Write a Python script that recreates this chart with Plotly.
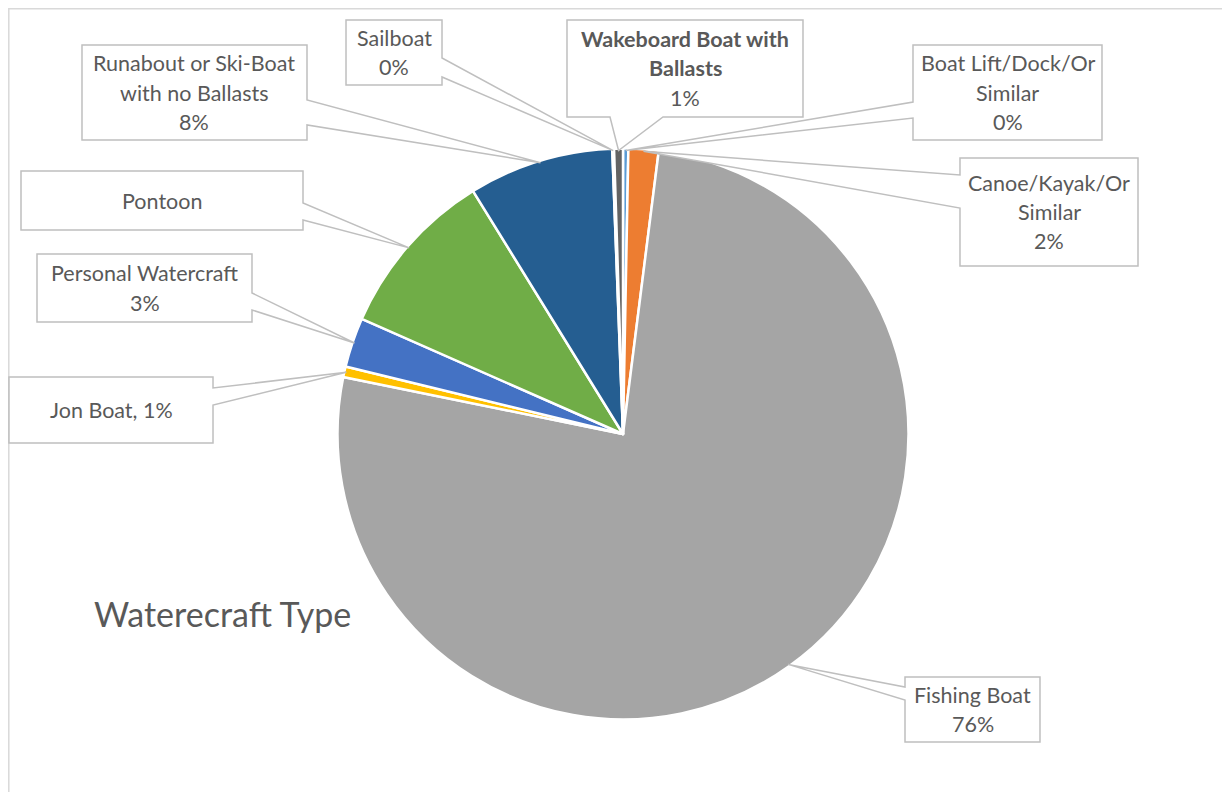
import math
import plotly.graph_objects as go

# ---- data ----
categories = [
    "Boat Lift/Dock/Or Similar",
    "Canoe/Kayak/Or Similar",
    "Fishing Boat",
    "Jon Boat",
    "Personal Watercraft",
    "Pontoon",
    "Runabout or Ski-Boat with no Ballasts",
    "Sailboat",
    "Wakeboard Boat with Ballasts",
]
values = [0.3, 1.7, 76.2, 0.6, 2.8, 9.6, 8.2, 0.1, 0.5]
colors = ["#5B9BD5", "#ED7D31", "#A5A5A5", "#FFC000", "#4472C4",
          "#70AD47", "#255E91", "#9E480E", "#636363"]
label_lines = [
    ["Boat Lift/Dock/Or", "Similar", "0%"],
    ["Canoe/Kayak/Or", "Similar", "2%"],
    ["Fishing Boat", "76%"],
    ["Jon Boat, 1%"],
    ["Personal Watercraft", "3%"],
    ["Pontoon"],
    ["Runabout or Ski-Boat", "with no Ballasts", "8%"],
    ["Sailboat", "0%"],
    ["Wakeboard Boat with", "Ballasts", "1%"],
]
# number of leading lines set in bold for each label
bold_lines = [0, 0, 0, 0, 0, 0, 0, 0, 2]
title_text = "Waterecraft Type"

# ---- layout constants (page pixels) ----
W, H = 1230, 792
OFF = 8  # page body margin
CX, CY, R = 623, 434, 285.5
TEXT = "#595959"
FONT = "Lato"

# callout boxes: (left, top, right, bottom, side, a, b)
boxes = [
    (913, 45, 1102, 140, "left", 102, 118),
    (960, 158, 1138, 266, "left", 175, 208),
    (905, 677, 1040, 742, "left", 687, 700),
    (9, 377, 213, 443, "right", 388, 405),
    (37, 254, 252, 322, "right", 293, 310),
    (21, 171, 303, 230, "right", 203, 220),
    (82, 45, 307, 140, "right", 100, 125),
    (346, 20, 442, 85, "right", 58, 77),
    (567, 20, 803, 117, "bottom", 610, 663),
]
line_gap = 29.5


def px(x):
    return (x - OFF) / W


def py(y):
    return 1 - (y - OFF) / H


fig = go.Figure(go.Pie(
    labels=categories, values=values, sort=False, direction="clockwise",
    rotation=0, marker=dict(colors=colors, line=dict(color="white", width=2.5)),
    textinfo="none", hoverinfo="label+percent", showlegend=False,
    domain=dict(x=[px(CX - R), px(CX + R)], y=[py(CY + R), py(CY - R)]),
))

shapes = [dict(type="rect", xref="paper", yref="paper",
               x0=px(OFF + 0.8), x1=px(1260), y0=py(OFF + 0.8), y1=py(830),
               line=dict(color="#D9D9D9", width=1.5), layer="below")]
annotations = []

total = sum(values)
cum = 0.0
for i, v in enumerate(values):
    mid = (cum + v / 2) / total * 2 * math.pi
    cum += v
    tx = CX + (R - 2) * math.sin(mid)
    ty = CY - (R - 2) * math.cos(mid)
    l, t, r, b, side, a1, a2 = boxes[i]
    if side == "right":
        pts = [(l, t), (r, t), (r, a1), (tx, ty), (r, a2), (r, b), (l, b)]
    elif side == "left":
        pts = [(l, t), (r, t), (r, b), (l, b), (l, a2), (tx, ty), (l, a1)]
    else:
        pts = [(l, t), (r, t), (r, b), (a2, b), (tx, ty), (a1, b), (l, b)]
    path = "M " + " L ".join(f"{px(x):.5f},{py(y):.5f}" for x, y in pts) + " Z"
    shapes.append(dict(type="path", xref="paper", yref="paper", path=path,
                       fillcolor="white", line=dict(color="#BFBFBF", width=1.5),
                       layer="above"))
    lines = label_lines[i]
    n = len(lines)
    cy_box = (t + b) / 2
    for k, s in enumerate(lines):
        yk = cy_box + (k - (n - 1) / 2) * line_gap
        txt = f"<b>{s}</b>" if k < bold_lines[i] else s
        annotations.append(dict(
            x=px((l + r) / 2), y=py(yk), xref="paper", yref="paper",
            text=txt, showarrow=False, xanchor="center", yanchor="middle",
            font=dict(family=FONT, size=21.5, color=TEXT)))

annotations.append(dict(x=px(92), y=py(613), xref="paper", yref="paper",
                        text=title_text, showarrow=False, xanchor="left",
                        yanchor="middle",
                        font=dict(family=FONT, size=34, color=TEXT)))

fig.update_layout(
    width=W, height=H, margin=dict(l=0, r=0, t=0, b=0),
    paper_bgcolor="white", plot_bgcolor="white",
    shapes=shapes, annotations=annotations,
)

fig.write_html("out.html")
